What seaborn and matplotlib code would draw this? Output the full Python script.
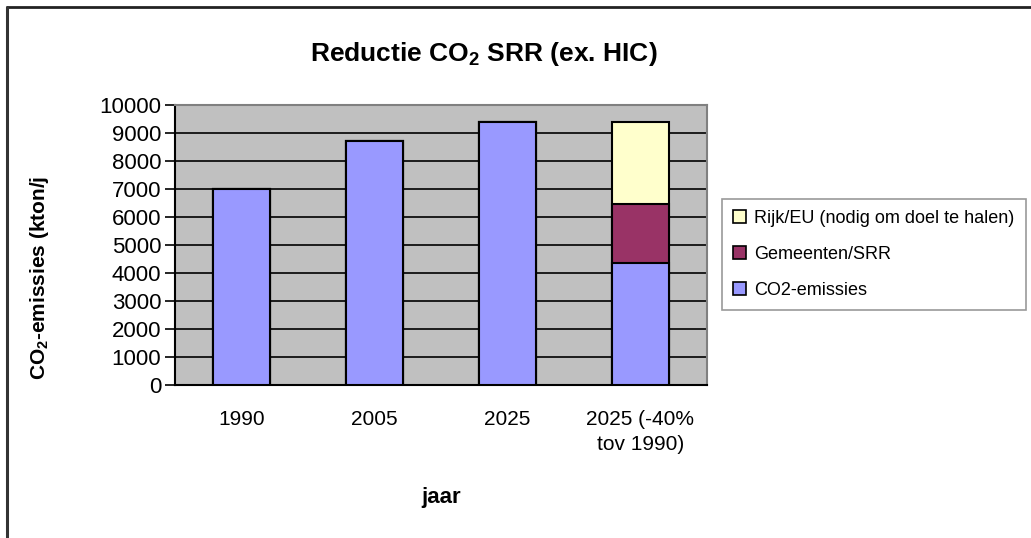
import numpy as np
import pandas as pd
import matplotlib
matplotlib.use("Agg")
import matplotlib.pyplot as plt
from matplotlib.lines import Line2D
from matplotlib.patches import Patch
import seaborn as sns

# data
categories = ["1990", "2005", "2025", "2025 (-40%\ntov 1990)"]
co2_emissies = [7000, 8700, 9400, 4350]
gemeenten_srr = [0, 0, 0, 2100]
rijk_eu = [0, 0, 0, 2950]

series_names = ["CO2-emissies", "Gemeenten/SRR", "Rijk/EU (nodig om doel te halen)"]
series_colors = ["#9999FF", "#993366", "#FFFFCC"]

sns.set_style("white")
plt.rcParams["font.family"] = ["Liberation Sans", "DejaVu Sans"]
plt.rcParams["mathtext.fontset"] = "custom"
plt.rcParams["mathtext.rm"] = "Liberation Sans:bold"
plt.rcParams["mathtext.it"] = "Liberation Sans:bold"
plt.rcParams["mathtext.bf"] = "Liberation Sans:bold"
for key in ["text.color", "xtick.color", "ytick.color", "axes.labelcolor"]:
    plt.rcParams[key] = "black"

# stacked totals, drawn tallest first so the lower layers sit on top
stack = np.cumsum(np.array([co2_emissies, gemeenten_srr, rijk_eu]), axis=0)
df = pd.DataFrame({"jaar": categories})
for name, vals in zip(series_names, stack):
    df[name] = vals

fig = plt.figure(figsize=(10.31, 5.38), dpi=100)
ax = fig.add_axes([175 / 1031, 1 - 385 / 538, 532 / 1031, 280 / 538])
ax.set_facecolor("#C0C0C0")

for name, color in reversed(list(zip(series_names, series_colors))):
    sns.barplot(data=df, x="jaar", y=name, color=color, width=0.43,
                edgecolor="black", linewidth=1.5, saturation=1, ax=ax, zorder=3)

ax.set_xlim(-0.5, len(categories) - 0.5)
ax.set_ylim(0, 10000)
ax.set_yticks(np.arange(0, 10001, 1000))
ax.yaxis.grid(True, color="black", linewidth=1.2, zorder=1)
ax.set_axisbelow(True)

ax.set_xticks(np.arange(len(categories)))
ax.set_xticklabels(categories, fontsize=15, linespacing=1.4)
ax.set_xticks(np.arange(-0.5, len(categories)), minor=True)
ax.tick_params(axis="x", which="major", length=0, pad=18)
ax.tick_params(axis="x", which="minor", length=7, width=1.2, color="black")
ax.tick_params(axis="y", length=7, width=1.2, color="black", labelsize=16, pad=3, left=True)
ax.set_xlabel("")
ax.set_ylabel("")

for side in ["top", "right"]:
    ax.spines[side].set_color("#808080")
    ax.spines[side].set_linewidth(1.5)
for side in ["left", "bottom"]:
    ax.spines[side].set_color("black")
    ax.spines[side].set_linewidth(1.5)

fig.text(484 / 1031, 1 - 54 / 538, "Reductie CO$_2$ SRR (ex. HIC)",
         fontsize=19, fontweight="bold", ha="center", va="center")
fig.text(40 / 1031, 1 - 278 / 538, "CO$_2$-emissies (kton/j",
         fontsize=15, fontweight="bold", rotation=90, ha="center", va="center")
fig.text(441 / 1031, 1 - 497 / 538, "jaar",
         fontsize=16, fontweight="bold", ha="center", va="center")

handles = [Patch(facecolor=c, edgecolor="black", linewidth=1.2)
           for c in reversed(series_colors)]
leg = fig.legend(handles, list(reversed(series_names)), loc="upper left",
                 bbox_to_anchor=(722 / 1031, 1 - 199 / 538), fontsize=13,
                 frameon=True, fancybox=False, edgecolor="#808080",
                 handlelength=0.75, handleheight=0.75, handletextpad=0.45,
                 labelspacing=1.05, borderpad=0.6, borderaxespad=0)
leg.get_frame().set_linewidth(1.2)

# outer chart border (only top and left are visible in the crop)
fig.add_artist(Line2D([7 / 1031, 1.0], [1 - 7 / 538, 1 - 7 / 538],
                      color="#222222", linewidth=2, transform=fig.transFigure))
fig.add_artist(Line2D([7 / 1031, 7 / 1031], [1 - 7 / 538, 0.0],
                      color="#333333", linewidth=2.2, transform=fig.transFigure))

fig.savefig("out.png", dpi=100)
